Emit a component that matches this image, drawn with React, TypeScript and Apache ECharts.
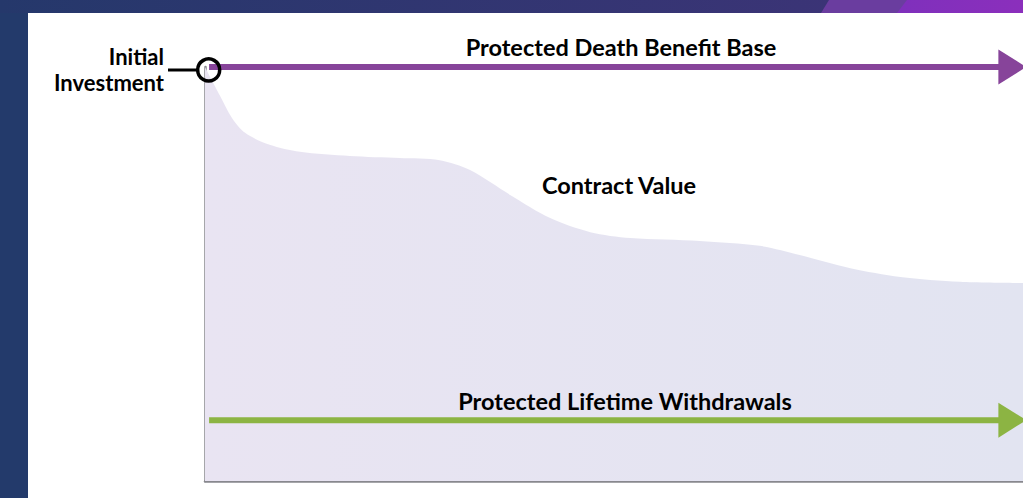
import React, { useEffect, useRef } from "react";
import * as echarts from "echarts";

// Contract value curve (x: time share 0-100, y: value as % of initial investment)
const contractX = [0, 1.8, 3.3, 4.9, 7.9, 11.6, 17.7, 23.8, 28.7, 32.4, 37.3, 42.2, 47.1, 52.0, 60.5, 67.8, 72.7, 78.9, 85.0, 92.3, 100];
const contractY = [100, 93.2, 87.7, 84.1, 81.2, 79.5, 78.5, 78.0, 77.5, 75.1, 69.1, 63.5, 60.1, 58.7, 58.0, 56.8, 54.6, 51.4, 49.3, 48.1, 47.8];

// Protected Death Benefit Base (flat at initial investment)
const deathBenefitX = [0.5, 98.7];
const deathBenefitY = [100, 100];

// Protected Lifetime Withdrawals (flat)
const withdrawalX = [0.5, 98.7];
const withdrawalY = [14.7, 14.7];

// Initial investment marker
const initialPoint = [0.45, 99.3];

const labels = {
  deathBenefit: "Protected Death Benefit Base",
  contract: "Contract Value",
  withdrawals: "Protected Lifetime Withdrawals",
  initialLine1: "Initial",
  initialLine2: "Investment",
};

const PURPLE = "#87449a";
const GREEN = "#8cb443";
const FONT = "Lato, 'Noto Sans', sans-serif";

export default function App() {
  const ref = useRef<HTMLDivElement>(null);

  useEffect(() => {
    document.body.style.margin = "0";
    const chart = echarts.init(ref.current!, null, { renderer: "svg" });

    const arrowItem = (x: number, y: number, color: string) => ({
      value: [x, y],
      symbol: "triangle",
      symbolSize: [35, 28],
      symbolRotate: -90,
      itemStyle: { color },
    });

    const textStyle = (text: string, size: number, align = "center") => ({
      text,
      fill: "#000",
      fontFamily: FONT,
      fontWeight: "bold",
      fontSize: size,
      lineHeight: size,
      align,
      verticalAlign: "middle",
    });

    const option: any = {
      animation: false,
      backgroundColor: "#233a6b",
      grid: { left: 205, right: 0, top: 67, bottom: 17, containLabel: false },
      xAxis: {
        type: "value",
        min: 0,
        max: 100,
        axisLine: { show: true, lineStyle: { color: "#88888e", width: 2.5 } },
        axisTick: { show: false },
        axisLabel: { show: false },
        splitLine: { show: false },
      },
      yAxis: {
        type: "value",
        min: 0,
        max: 100,
        axisLine: { show: true, lineStyle: { color: "#88888e", width: 2.5 } },
        axisTick: { show: false },
        axisLabel: { show: false },
        splitLine: { show: false },
      },
      graphic: [
        // top band
        {
          type: "rect",
          z: -20,
          shape: { x: 0, y: 0, width: 1023, height: 13 },
          style: {
            fill: new echarts.graphic.LinearGradient(0, 0, 1, 0, [
              { offset: 0, color: "#25386b" },
              { offset: 1, color: "#403379" },
            ]),
          },
        },
        {
          type: "polygon",
          z: -19,
          shape: { points: [[821, 13], [829, 0], [1023, 0], [1023, 13]] },
          style: { fill: "#6a3d9f" },
        },
        {
          type: "polygon",
          z: -18,
          shape: { points: [[897, 13], [907, 0], [1023, 0], [1023, 13]] },
          style: {
            fill: new echarts.graphic.LinearGradient(0, 0, 1, 0, [
              { offset: 0, color: "#7f30bc" },
              { offset: 1, color: "#8b2fbc" },
            ]),
          },
        },
        // white panel
        {
          type: "rect",
          z: -17,
          shape: { x: 28, y: 13, width: 995, height: 485 },
          style: { fill: "#ffffff" },
        },
        // connector
        {
          type: "line",
          z: 50,
          shape: { x1: 168, y1: 70, x2: 198, y2: 70 },
          style: { stroke: "#000", lineWidth: 3 },
        },
        { type: "text", z: 50, x: 164, y: 56, style: textStyle(labels.initialLine1, 22, "right") },
        { type: "text", z: 50, x: 164, y: 82, style: textStyle(labels.initialLine2, 22, "right") },
        { type: "text", z: 50, x: 621, y: 47, style: textStyle(labels.deathBenefit, 23.5) },
        { type: "text", z: 50, x: 619, y: 185, style: textStyle(labels.contract, 23.5) },
        { type: "text", z: 50, x: 625, y: 401, style: textStyle(labels.withdrawals, 23.5) },
      ],
      series: [
        {
          type: "line",
          name: "Contract Value",
          data: contractX.map((x, i) => [x, contractY[i]]),
          smooth: 0.3,
          symbol: "none",
          lineStyle: { width: 0 },
          areaStyle: {
            opacity: 1,
            color: new echarts.graphic.LinearGradient(0, 0, 1, 0, [
              { offset: 0, color: "#e9e4f2" },
              { offset: 1, color: "#e2e4f1" },
            ]),
          },
          z: 1,
        },
        {
          type: "line",
          name: "Protected Death Benefit Base",
          data: deathBenefitX.map((x, i) =>
            i === deathBenefitX.length - 1 ? arrowItem(x, deathBenefitY[i], PURPLE) : { value: [x, deathBenefitY[i]], symbol: "none" }
          ),
          symbol: "none",
          lineStyle: { color: PURPLE, width: 6 },
          itemStyle: { color: PURPLE },
          clip: false,
          z: 3,
        },
        {
          type: "line",
          name: "Protected Lifetime Withdrawals",
          data: withdrawalX.map((x, i) =>
            i === withdrawalX.length - 1 ? arrowItem(x, withdrawalY[i], GREEN) : { value: [x, withdrawalY[i]], symbol: "none" }
          ),
          symbol: "none",
          lineStyle: { color: GREEN, width: 6 },
          itemStyle: { color: GREEN },
          clip: false,
          z: 3,
        },
        {
          type: "scatter",
          name: "Initial Investment",
          data: [initialPoint],
          symbol: "circle",
          symbolSize: 22,
          itemStyle: { color: "rgba(0,0,0,0)", borderColor: "#000", borderWidth: 3.5, opacity: 1 },
          z: 5,
        },
      ],
    };

    chart.setOption(option);
    return () => chart.dispose();
  }, []);

  return (
    <div
      ref={ref}
      style={{ position: "absolute", left: 0, top: 0, width: 1023, height: 498 }}
    />
  );
}
